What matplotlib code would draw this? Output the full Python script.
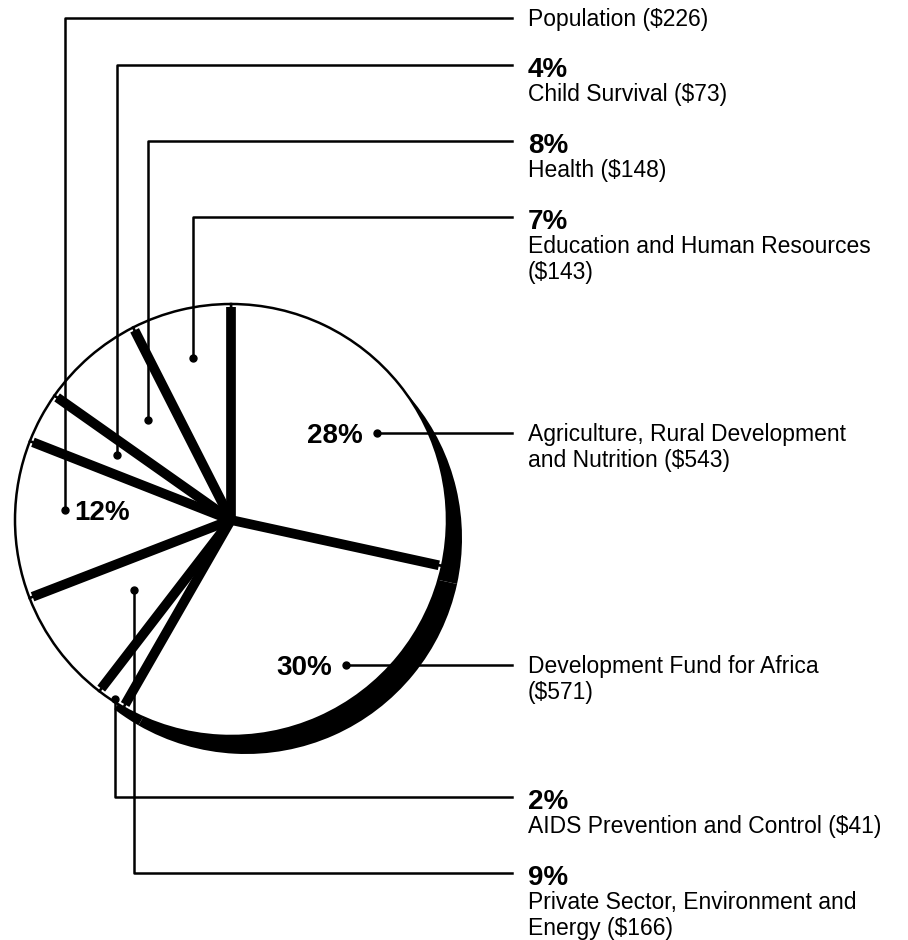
import textwrap
import matplotlib.pyplot as plt
import numpy as np

plt.rcParams['font.family'] = ['Liberation Sans', 'DejaVu Sans']

# program areas, clockwise from 12 o'clock (millions of dollars)
categories = ["Agriculture, Rural Development and Nutrition",
              "Development Fund for Africa",
              "AIDS Prevention and Control",
              "Private Sector, Environment and Energy",
              "Population",
              "Child Survival",
              "Health",
              "Education and Human Resources"]
amounts = [543, 571, 41, 166, 226, 73, 148, 143]
pct_in_pie = [True, True, False, False, True, False, False, False]

# leader layout, pixels from the top-left corner
dots = [(377, 433), (346, 665), (115, 699), (134, 590),
        (65, 510), (117, 455), (148, 420), (193, 358)]
rows = [433, 665, 797, 873, 18, 65, 141, 217]

W, H = 908, 940
fig = plt.figure(figsize=(W / 100, H / 100), dpi=100)
ax = fig.add_axes([0, 0, 1, 1])

cx, cy, r = 231, H - 520, 216
total = sum(amounts)
pct = [round(100 * a / total) for a in amounts]

# black "thickness" under the front slices
ax.pie(amounts, radius=r, center=(cx + 15, cy - 18), startangle=90, counterclock=False,
       colors=['black'] * 3 + ['none'] * 5, wedgeprops=dict(linewidth=0, zorder=1))
ax.pie(amounts, radius=r, center=(cx, cy), startangle=90, counterclock=False,
       colors=['white'] * len(amounts), wedgeprops=dict(edgecolor='black', linewidth=1.8, zorder=2))

# heavy slice separators
ang = np.radians(90 - 360 * np.cumsum([0] + amounts[:-1]) / total)
for a in ang:
    ax.plot([cx, cx + 0.985 * r * np.cos(a)], [cy, cy + 0.985 * r * np.sin(a)],
            color='black', lw=7, solid_capstyle='butt', zorder=3)

xe, xt = 512, 528
for i, name in enumerate(categories):
    dx, dy = dots[i]
    y = rows[i]
    ax.plot([dx, dx, xe], [H - dy, H - y, H - y], color='black', lw=1.8, zorder=4)
    ax.plot(dx, H - dy, 'o', color='black', ms=5, zorder=5)
    lines = textwrap.wrap(f"{name} (${amounts[i]})", 33)
    if pct_in_pie[i]:
        if dx > cx:
            ax.text(dx - 14, H - dy - 10, f"{pct[i]}%", ha='right', va='baseline',
                    fontsize=20, fontweight='bold', zorder=6)
        else:
            ax.text(dx + 9, H - dy - 10, f"{pct[i]}%", ha='left', va='baseline',
                    fontsize=20, fontweight='bold', zorder=6)
        ty = y
    else:
        ax.text(xt, H - y - 12, f"{pct[i]}%", ha='left', va='baseline',
                fontsize=20, fontweight='bold')
        ty = y + 28
    for k, ln in enumerate(lines):
        ax.text(xt, H - (ty + 26 * k) - 8, ln, ha='left', va='baseline', fontsize=16.5)

ax.set_xlim(0, W)
ax.set_ylim(0, H)
ax.set_aspect('equal')
ax.axis('off')

fig.savefig('out.png', dpi=100, facecolor='white')
